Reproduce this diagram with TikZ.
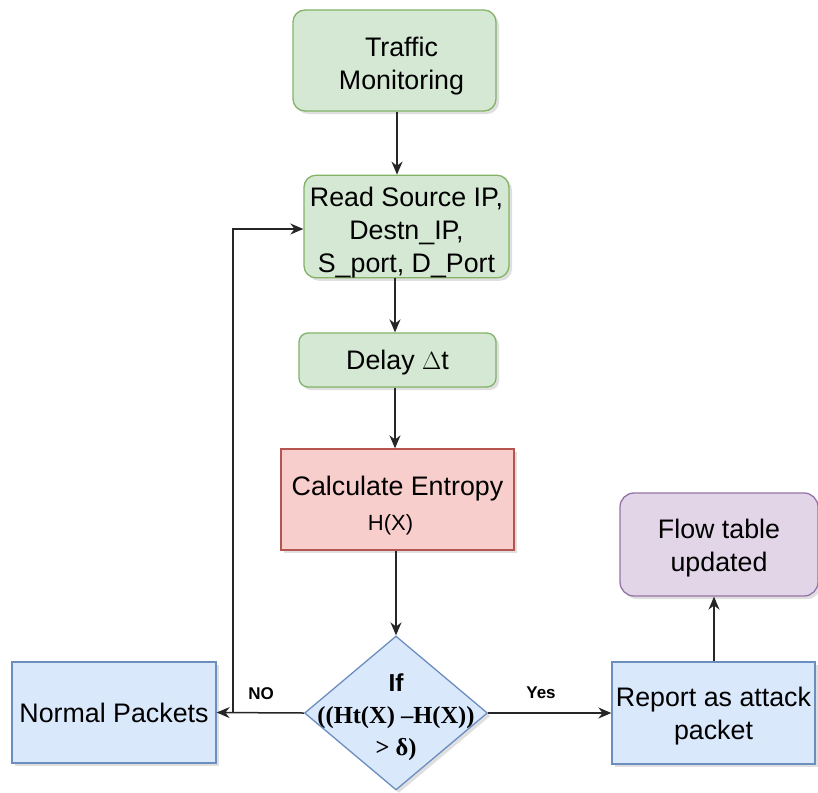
\documentclass[tikz,border=0pt]{standalone}
\usepackage{fontspec}
\setmainfont{Liberation Sans}
\newfontfamily\tnr{Liberation Serif}
\usetikzlibrary{arrows.meta,shapes.geometric,shadows}
\definecolor{gfill}{HTML}{D5E8D4}\definecolor{gline}{HTML}{82B366}
\definecolor{rfill}{HTML}{F8CECC}\definecolor{rline}{HTML}{B85450}
\definecolor{bfill}{HTML}{DAE8FC}\definecolor{bline}{HTML}{6C8EBF}
\definecolor{pfill}{HTML}{E1D5E7}\definecolor{pline}{HTML}{9673A6}
\newcommand\dropby[1]{\rule{0pt}{#1pt}}
\tikzset{
  base/.style={line width=1.3pt, align=center, inner sep=0pt,
    font=\fontsize{26.8}{33}\selectfont,
    drop shadow={opacity=0.25, shadow xshift=3pt, shadow yshift=-3pt}},
  greenbox/.style={base, draw=gline, fill=gfill, rounded corners=12pt},
  redbox/.style={base, draw=rline, fill=rfill},
  bluebox/.style={base, draw=bline, fill=bfill},
  purplebox/.style={base, draw=pline, fill=pfill, rounded corners=14pt},
  conn/.style={line width=1.5pt, black!85, -{Stealth[length=13pt,width=11pt]}},
  lbl/.style={font=\fontsize{17}{19}\selectfont\bfseries, inner sep=0pt}
}
\begin{document}
\begin{tikzpicture}[x=1pt,y=-1pt]
\useasboundingbox (0,0) rectangle (818,792);
\fill[white] (0,0) rectangle (818,792);

\node[greenbox, minimum width=203pt, minimum height=101pt] (traffic) at (394.5,60.5) {\dropby{31}\hspace*{14pt}Traffic\\\hspace*{14pt}Monitoring};
\node[greenbox, minimum width=205pt, minimum height=99pt] (read) at (406.5,226.5) {\dropby{31}Read Source IP,\\Destn\_IP,\\S\_port, D\_Port};
\node[greenbox, minimum width=197pt, minimum height=54pt, rounded corners=9pt] (delay) at (397.5,360) {\dropby{25}Delay $\Delta$t};
\node[redbox, minimum width=233pt, minimum height=101pt] (calc) at (397.5,499.5) {\dropby{31}Calculate Entropy\\[2pt]{\fontsize{22}{24}\selectfont\hspace*{-14pt}H(X)}};
\node[base, draw=bline, fill=bfill, diamond, minimum width=183pt, minimum height=154pt] (dia) at (396,713) {};
\node[align=center, inner sep=0pt, font=\fontsize{24.5}{32}\selectfont\bfseries] (diatext) at (396,717) {If\\{\tnr ((Ht(X) –H(X))}\\{\tnr > δ)}};
\node[bluebox, minimum width=204pt, minimum height=101pt] (normal) at (114,712.5) {Normal Packets};
\node[bluebox, minimum width=203pt, minimum height=102pt] (report) at (713.5,713) {\dropby{26}Report as attack\\packet};
\node[purplebox, minimum width=198pt, minimum height=103pt] (flow) at (719,544.5) {\dropby{26}Flow table\\updated};

\coordinate (branch) at (233,713);

\draw[conn] (traffic.south -| 397,0) -- (read.north -| 397,0);
\draw[conn] (read.south -| 395,0) -- (delay.north -| 395,0);
\draw[conn] (delay.south -| 395,0) -- (calc.north -| 395,0);
\draw[conn] (calc.south -| 396,0) -- (dia.north);
\draw[conn] (dia.west) -- (normal.east);
\draw[conn] (branch) -- (233,229) -- (read.west |- 0,229);
\draw[conn] (dia.east) -- (report.west);
\draw[conn] (report.north -| 714,0) -- (flow.south -| 714,0);

\node[lbl] (no) at (261,694) {NO};
\node[lbl] (yes) at (541,693) {Yes};
\end{tikzpicture}
\end{document}
